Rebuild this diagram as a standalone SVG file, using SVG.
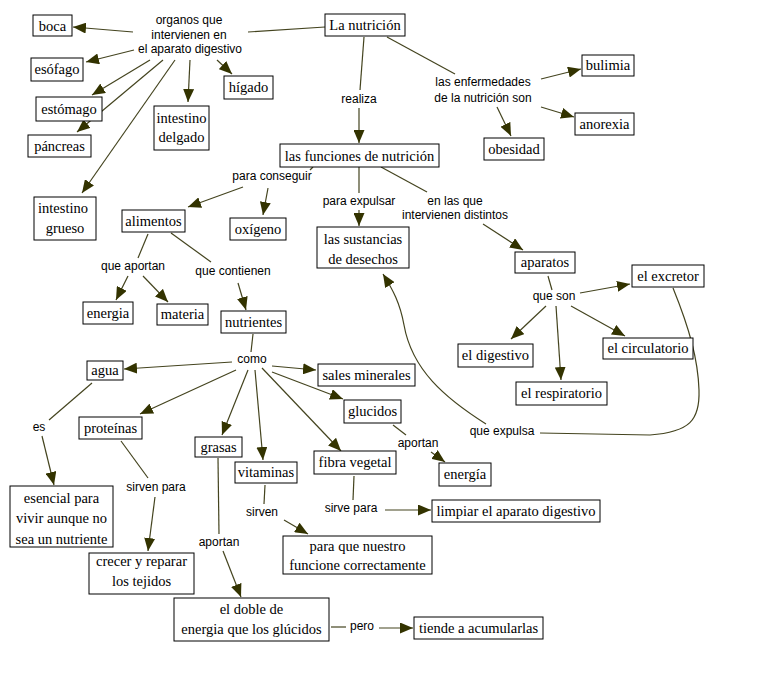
<svg xmlns="http://www.w3.org/2000/svg" width="764" height="682" viewBox="0 0 764 682">
<style>
.b{fill:#fff;stroke:#000;stroke-width:1}
.t{font-family:"Liberation Serif","Times New Roman",serif;font-size:14.5px;fill:#000;text-anchor:middle}
.l{font-family:"Liberation Sans",Arial,sans-serif;font-size:12px;fill:#000;text-anchor:middle}
.c{fill:none;stroke:#44441f;stroke-width:1.2}
.a{marker-end:url(#ah)}
</style>
<defs>
<marker id="ah" markerUnits="userSpaceOnUse" markerWidth="13" markerHeight="11" refX="13" refY="5.5" orient="auto">
<path d="M0,0 L13,5.5 L0,11 z" fill="#333300"/>
</marker>
</defs>
<rect width="764" height="682" fill="#fff"/>
<g id="connectors">
<path class="c" d="M325,27 L248,32"/>
<path class="c a" d="M133,32 L73,27"/>
<path class="c a" d="M134,50 L86,62"/>
<path class="c a" d="M150,60 L92,95"/>
<path class="c a" d="M163,60 L77,132"/>
<path class="c a" d="M175,60 L82,193"/>
<path class="c a" d="M190,60 L188,102"/>
<path class="c a" d="M217,60 L232,74"/>
<path class="c" d="M364,37 L360,90"/>
<path class="c a" d="M359,108 L359,143"/>
<path class="c" d="M387,37 L455,74"/>
<path class="c a" d="M541,79 L581,69"/>
<path class="c a" d="M541,107 L574,117"/>
<path class="c a" d="M497,107 L511,136"/>
<path class="c" d="M313,167 L310,170"/>
<path class="c a" d="M243,187 L188,207"/>
<path class="c a" d="M268,188 L263,215"/>
<path class="c" d="M359,167 L359,193"/>
<path class="c a" d="M359,210 L359,226"/>
<path class="c" d="M381,167 L427,192"/>
<path class="c a" d="M483,224 L523,250"/>
<path class="c" d="M548,276 L552,290"/>
<path class="c a" d="M580,293 L630,284"/>
<path class="c a" d="M546,306 L511,339"/>
<path class="c a" d="M556,306 L561,380"/>
<path class="c a" d="M571,306 L625,336"/>
<path class="c" d="M673,288 C690,330 698,360 699,390 C700,420 690,432 650,435 L540,433"/>
<path class="c a" d="M486,424 C445,398 412,370 404,325 C400,303 393,290 383,274"/>
<path class="c" d="M148,234 L138,258"/>
<path class="c a" d="M128,276 L116,300"/>
<path class="c a" d="M143,276 L168,302"/>
<path class="c" d="M171,233 L211,262"/>
<path class="c a" d="M238,283 L246,310"/>
<path class="c" d="M253,334 L251,352"/>
<path class="c a" d="M232,362 L124,369"/>
<path class="c a" d="M272,366 L316,370"/>
<path class="c a" d="M272,372 L343,399"/>
<path class="c a" d="M236,370 L140,414"/>
<path class="c a" d="M248,370 L222,435"/>
<path class="c a" d="M255,370 L263,460"/>
<path class="c a" d="M262,368 L341,451"/>
<path class="c" d="M92,383 L49,420"/>
<path class="c a" d="M42,436 L54,485"/>
<path class="c" d="M121,441 L148,478"/>
<path class="c a" d="M155,497 L148,551"/>
<path class="c" d="M218,458 L219,534"/>
<path class="c a" d="M223,551 L241,597"/>
<path class="c" d="M331,627 L346,627"/>
<path class="c a" d="M379,628 L413,628"/>
<path class="c" d="M265,485 L264,504"/>
<path class="c a" d="M284,520 L308,534"/>
<path class="c" d="M354,476 L353,500"/>
<path class="c a" d="M385,510 L431,510"/>
<path class="c" d="M393,425 L406,435"/>
<path class="c a" d="M431,452 L445,462"/>
</g>
<g id="labels">
<text class="l" x="189" y="24">organos que</text>
<text class="l" x="189" y="38.5">intervienen en</text>
<text class="l" x="190" y="53">el aparato digestivo</text>
<text class="l" x="359" y="103">realiza</text>
<text class="l" x="483" y="86">las enfermedades</text>
<text class="l" x="483" y="102">de la nutrición son</text>
<text class="l" x="272" y="180">para conseguir</text>
<text class="l" x="359" y="205">para expulsar</text>
<text class="l" x="455" y="205">en las que</text>
<text class="l" x="455" y="219">intervienen distintos</text>
<text class="l" x="554" y="300">que son</text>
<text class="l" x="133" y="270">que aportan</text>
<text class="l" x="233" y="275">que contienen</text>
<text class="l" x="252" y="363">como</text>
<text class="l" x="39" y="431">es</text>
<text class="l" x="156" y="491">sirven para</text>
<text class="l" x="219" y="546">aportan</text>
<text class="l" x="362" y="630">pero</text>
<text class="l" x="262" y="516">sirven</text>
<text class="l" x="351" y="512">sirve para</text>
<text class="l" x="418" y="447">aportan</text>
<text class="l" x="502" y="435">que expulsa</text>
</g>
<g id="n_nutricion"><rect class="b" x="325" y="14" width="80" height="22"/><text class="t" x="365" y="30">La nutrición</text></g>
<g id="n_boca"><rect class="b" x="33" y="15" width="39" height="21"/><text class="t" x="52.5" y="30.5">boca</text></g>
<g id="n_esofago"><rect class="b" x="31" y="58" width="52" height="23"/><text class="t" x="57" y="74">esófago</text></g>
<g id="n_estomago"><rect class="b" x="36" y="97" width="66" height="24"/><text class="t" x="69" y="114">estómago</text></g>
<g id="n_pancreas"><rect class="b" x="28" y="135" width="63" height="22"/><text class="t" x="59.5" y="151">páncreas</text></g>
<g id="n_delgado"><rect class="b" x="154" y="106" width="55" height="44"/><text class="t" x="181.5" y="123">intestino</text><text class="t" x="181.5" y="142">delgado</text></g>
<g id="n_higado"><rect class="b" x="224" y="76" width="49" height="23"/><text class="t" x="248.5" y="92">hígado</text></g>
<g id="n_grueso"><rect class="b" x="34" y="197" width="62" height="43"/><text class="t" x="63" y="213">intestino</text><text class="t" x="65" y="233">grueso</text></g>
<g id="n_funciones"><rect class="b" x="280" y="144" width="159" height="23"/><text class="t" x="359.5" y="160.5">las funciones de nutrición</text></g>
<g id="n_bulimia"><rect class="b" x="582" y="55" width="52" height="21"/><text class="t" x="608" y="70">bulimia</text></g>
<g id="n_anorexia"><rect class="b" x="575" y="113" width="59" height="22"/><text class="t" x="604.5" y="128.5">anorexia</text></g>
<g id="n_obesidad"><rect class="b" x="484" y="138" width="60" height="22"/><text class="t" x="514" y="153.5">obesidad</text></g>
<g id="n_alimentos"><rect class="b" x="122" y="210" width="63" height="22"/><text class="t" x="153.5" y="225.5">alimentos</text></g>
<g id="n_oxigeno"><rect class="b" x="230" y="218" width="56" height="22"/><text class="t" x="258" y="233.5">oxígeno</text></g>
<g id="n_sustancias"><rect class="b" x="317" y="227" width="92" height="41"/><text class="t" x="363" y="244">las sustancias</text><text class="t" x="363" y="264">de desechos</text></g>
<g id="n_aparatos"><rect class="b" x="515" y="252" width="60" height="21"/><text class="t" x="545" y="267">aparatos</text></g>
<g id="n_excretor"><rect class="b" x="632" y="265" width="72" height="22"/><text class="t" x="668" y="280.5">el excretor</text></g>
<g id="n_digestivo"><rect class="b" x="458" y="344" width="75" height="23"/><text class="t" x="495.5" y="360">el digestivo</text></g>
<g id="n_respiratorio"><rect class="b" x="516" y="382" width="91" height="23"/><text class="t" x="561.5" y="398">el respiratorio</text></g>
<g id="n_circulatorio"><rect class="b" x="603" y="338" width="90" height="21"/><text class="t" x="648" y="353">el circulatorio</text></g>
<g id="n_energia1"><rect class="b" x="83" y="302" width="50" height="22"/><text class="t" x="108" y="317.5">energia</text></g>
<g id="n_materia"><rect class="b" x="157" y="304" width="51" height="21"/><text class="t" x="182.5" y="319">materia</text></g>
<g id="n_nutrientes"><rect class="b" x="221" y="311" width="65" height="22"/><text class="t" x="253.5" y="326.5">nutrientes</text></g>
<g id="n_agua"><rect class="b" x="87" y="361" width="36" height="19"/><text class="t" x="105" y="375">agua</text></g>
<g id="n_sales"><rect class="b" x="318" y="364" width="97" height="22"/><text class="t" x="366.5" y="379.5">sales minerales</text></g>
<g id="n_glucidos"><rect class="b" x="344" y="400" width="57" height="23"/><text class="t" x="372.5" y="416">glucidos</text></g>
<g id="n_proteinas"><rect class="b" x="79" y="417" width="63" height="22"/><text class="t" x="110.5" y="432.5">proteínas</text></g>
<g id="n_grasas"><rect class="b" x="195" y="437" width="47" height="20"/><text class="t" x="218.5" y="451.5">grasas</text></g>
<g id="n_vitaminas"><rect class="b" x="235" y="462" width="62" height="21"/><text class="t" x="266" y="477">vitaminas</text></g>
<g id="n_fibra"><rect class="b" x="314" y="451" width="82" height="23"/><text class="t" x="355" y="467">fibra vegetal</text></g>
<g id="n_energia2"><rect class="b" x="439" y="463" width="52" height="23"/><text class="t" x="465" y="479">energía</text></g>
<g id="n_esencial"><rect class="b" x="10" y="486" width="103" height="61"/><text class="t" x="61.5" y="503">esencial para</text><text class="t" x="61.5" y="523">vivir aunque no</text><text class="t" x="61.5" y="544">sea un nutriente</text></g>
<g id="n_crecer"><rect class="b" x="89" y="553" width="105" height="41"/><text class="t" x="141.5" y="566">crecer y reparar</text><text class="t" x="141.5" y="586">los tejidos</text></g>
<g id="n_doble"><rect class="b" x="174" y="598" width="155" height="43"/><text class="t" x="251.5" y="614">el doble de</text><text class="t" x="251.5" y="634">energia que los glúcidos</text></g>
<g id="n_tiende"><rect class="b" x="414" y="617" width="129" height="22"/><text class="t" x="478.5" y="632.5">tiende a acumularlas</text></g>
<g id="n_paraque"><rect class="b" x="283" y="536" width="149" height="38"/><text class="t" x="357.5" y="551">para que nuestro</text><text class="t" x="357.5" y="570">funcione correctamente</text></g>
<g id="n_limpiar"><rect class="b" x="432" y="500" width="168" height="22"/><text class="t" x="516" y="515.5">limpiar el aparato digestivo</text></g>
</svg>
